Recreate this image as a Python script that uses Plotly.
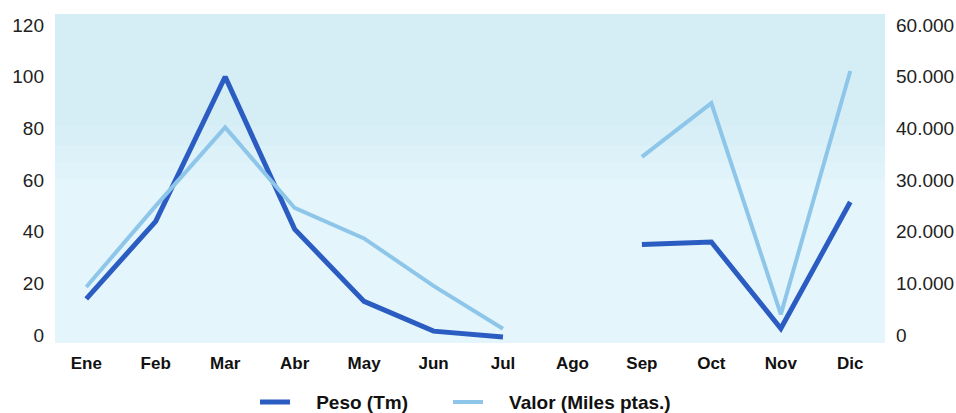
import plotly.graph_objects as go

months = ["Ene", "Feb", "Mar", "Abr", "May", "Jun", "Jul", "Ago", "Sep", "Oct", "Nov", "Dic"]
peso_tm = [14, 44, 100, 41, 13, 1.5, -0.8, None, 35, 36, 2.5, 51.5]
valor_miles = [9300, 25000, 40200, 24600, 18700, 9500, 1200, None, 34500, 44900, 4000, 51100]

left_ticks = [0, 20, 40, 60, 80, 100, 120]
right_ticks = [0, 10000, 20000, 30000, 40000, 50000, 60000]
right_labels = ["0", "10.000", "20.000", "30.000", "40.000", "50.000", "60.000"]

DARK = "#2b5cc2"
LIGHT = "#8ec6ea"
PAD = "\u00a0" * 4  # the scan leaves a wider gap between legend swatch and text

fig = go.Figure()
fig.add_trace(go.Scatter(
    x=months, y=valor_miles, mode="lines", name=PAD + "Valor (Miles ptas.)",
    line=dict(color=LIGHT, width=4), yaxis="y2", legend="legend2",
))
fig.add_trace(go.Scatter(
    x=months, y=peso_tm, mode="lines", name=PAD + "Peso (Tm)",
    line=dict(color=DARK, width=5), yaxis="y", legend="legend",
))

# the scanned background gets a bit darker towards the top
for y0, col in [(0.50, "#e0f3fa"), (0.55, "#dcf1f8"), (0.60, "#d8eff7"), (0.66, "#d5eef6")]:
    fig.add_shape(type="rect", xref="paper", yref="paper", x0=0, x1=1, y0=y0, y1=1,
                  fillcolor=col, line_width=0, layer="below")

legend_style = dict(
    orientation="h", xanchor="left", y=-0.18, yanchor="middle",
    bgcolor="rgba(0,0,0,0)", font=dict(size=19, weight="bold", color="#111"),
)

fig.update_layout(
    width=956, height=413,
    margin=dict(l=55, r=71, t=14, b=70, autoexpand=False),
    paper_bgcolor="white",
    plot_bgcolor="#e4f5fb",
    font=dict(family="Liberation Sans, Arial, sans-serif", color="#222"),
    xaxis=dict(
        type="category", categoryorder="array", categoryarray=months,
        range=[-0.45, 11.5], showgrid=False, zeroline=False, showline=False,
        ticks="", ticklabelstandoff=8, automargin=False,
        tickfont=dict(family="Liberation Sans Narrow, Arial Narrow, Liberation Sans", size=17,
                      weight="bold", color="#111"),
    ),
    yaxis=dict(
        range=[-3.1, 124.3], tickvals=left_ticks, showgrid=False, zeroline=False,
        showline=False, ticks="", ticklabelstandoff=10, automargin=False,
        tickfont=dict(size=19),
    ),
    yaxis2=dict(
        overlaying="y", side="right", range=[-1550, 62150],
        tickvals=right_ticks, ticktext=right_labels, showgrid=False, zeroline=False,
        showline=False, ticks="", ticklabelstandoff=10, automargin=False,
        tickfont=dict(size=19),
    ),
    legend=dict(x=0.241, **legend_style),
    legend2=dict(x=0.4735, **legend_style),
    showlegend=True,
)

fig.write_html("out.html", config={"displayModeBar": False},
               post_script="document.body.style.margin='0';")
